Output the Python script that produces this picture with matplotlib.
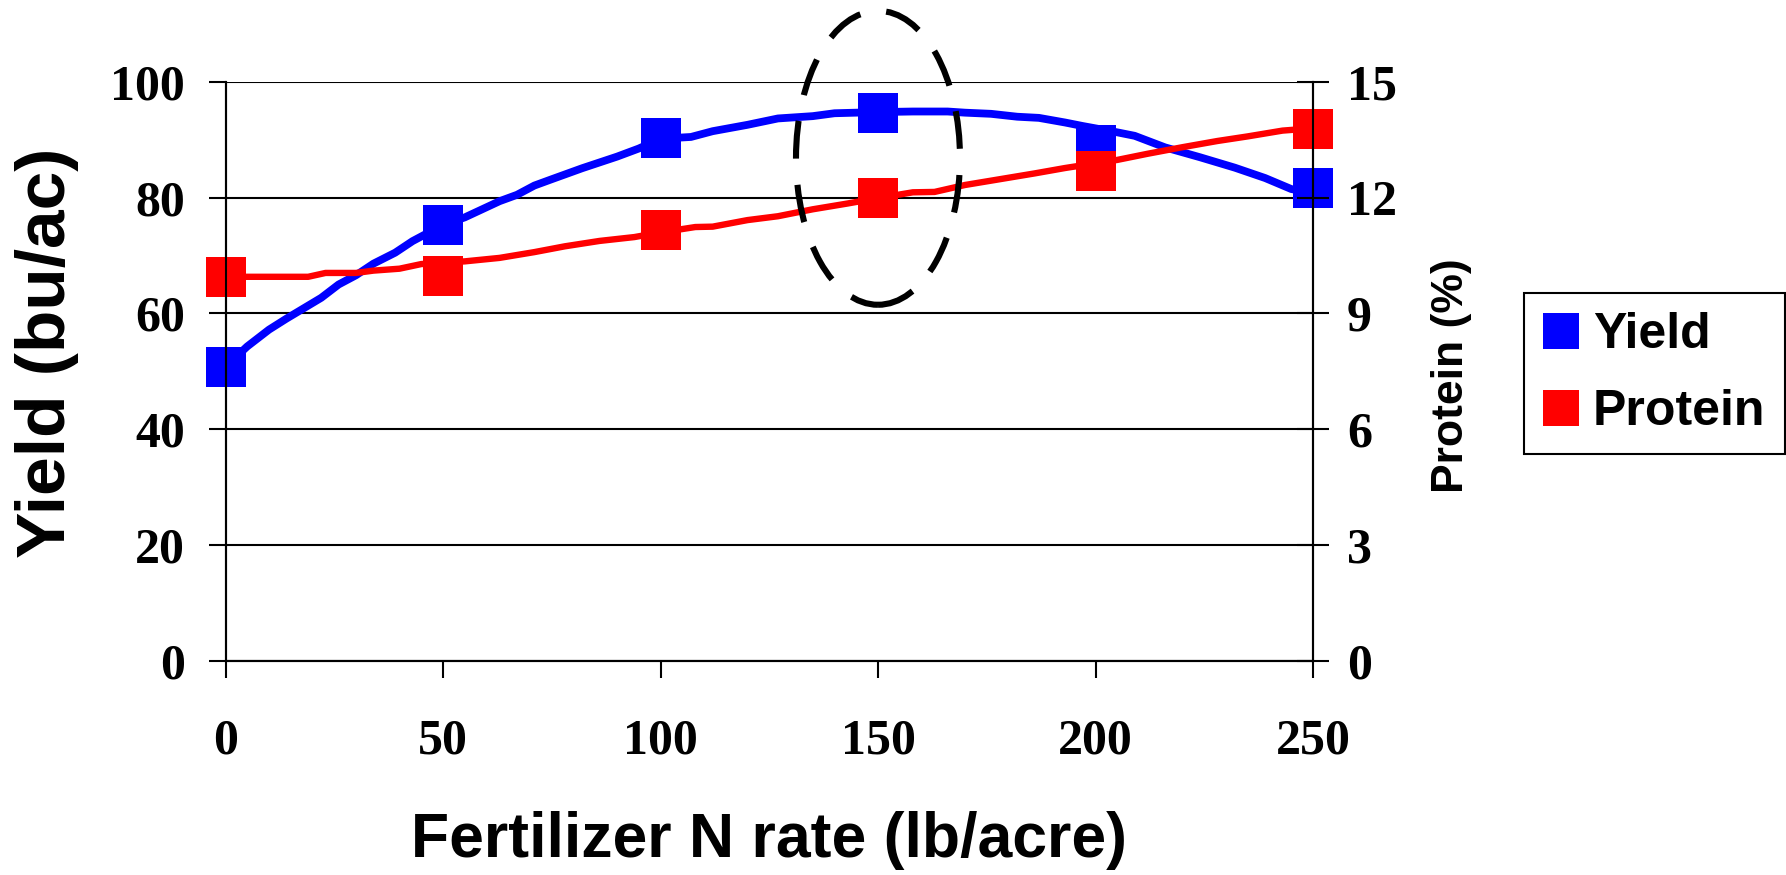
import matplotlib
matplotlib.use("Agg")
import matplotlib.pyplot as plt
from matplotlib.patches import Ellipse
from matplotlib.lines import Line2D

# ---------------- data ----------------
n_rate = [0, 50, 100, 150, 200, 250]
yield_obs = [50.8, 75.3, 90.3, 94.7, 89.1, 81.7]
protein_obs = [9.95, 9.98, 11.16, 11.99, 12.68, 13.79]

yield_curve_x = [0, 5, 10, 14, 18, 22, 26, 30, 34, 39, 43, 50, 55, 59, 63, 67, 71, 75,
                 82, 90, 95, 100, 107, 112, 120, 127, 135, 140, 150, 158, 166, 170, 176,
                 182, 187, 193, 197, 205, 209, 216, 224, 232, 239, 245, 250]
yield_curve_y = [50.8, 54.3, 57.2, 59.1, 60.9, 62.7, 65.0, 66.6, 68.6, 70.5, 72.5, 75.3,
                 76.6, 78.0, 79.4, 80.5, 82.1, 83.2, 85.1, 87.1, 88.5, 90.2, 90.5, 91.5,
                 92.6, 93.7, 94.1, 94.6, 94.8, 94.9, 94.9, 94.7, 94.5, 94.0, 93.8, 93.0,
                 92.4, 91.3, 90.7, 88.7, 87.0, 85.2, 83.4, 81.5, 80.8]

protein_curve_x = [0, 19, 23, 30, 34, 40, 45, 55, 63, 71, 78, 86, 94, 100, 108, 112, 120,
                   127, 135, 143, 150, 158, 163, 170, 178, 186, 193, 205, 212, 220, 228,
                   235, 243, 250]
protein_curve_y = [9.95, 9.95, 10.05, 10.05, 10.11, 10.16, 10.28, 10.35, 10.44, 10.59,
                   10.74, 10.88, 10.98, 11.10, 11.24, 11.25, 11.42, 11.52, 11.70, 11.85,
                   11.99, 12.14, 12.15, 12.33, 12.48, 12.63, 12.77, 12.98, 13.14, 13.31,
                   13.47, 13.59, 13.74, 13.80]

x_ticks = [0, 50, 100, 150, 200, 250]
yield_ticks = [0, 20, 40, 60, 80, 100]
protein_ticks = [0, 3, 6, 9, 12, 15]

series_names = ["Yield", "Protein"]
x_label = "Fertilizer N rate (lb/acre)"
y_label = "Yield (bu/ac)"
y2_label = "Protein (%)"

# ---------------- style ----------------
W, H = 1786, 875
BLUE = "#0000FF"
RED = "#FF0000"
serif = "Liberation Serif"
sans = "Liberation Sans"

fig = plt.figure(figsize=(W / 100, H / 100), dpi=100)
left, right, bottom, top = 225.5 / W, 1313 / W, 1 - 660.6 / H, 1 - 82 / H
ax = fig.add_axes([left, bottom, right - left, top - bottom])
ax2 = ax.twinx()

ax.set_xlim(0, 250)
ax.set_ylim(0, 100)
ax2.set_ylim(0, 15)

ax.plot(yield_curve_x, yield_curve_y, color=BLUE, lw=5.6, solid_joinstyle="round",
        solid_capstyle="round", zorder=2)
ax.plot(n_rate, yield_obs, ls="none", marker="s", ms=29, color=BLUE, mew=0, zorder=3,
        clip_on=False)
ax2.plot(protein_curve_x, protein_curve_y, color=RED, lw=4.6, solid_joinstyle="round",
         solid_capstyle="round", zorder=2)
ax2.plot(n_rate, protein_obs, ls="none", marker="s", ms=29, color=RED, mew=0, zorder=3,
         clip_on=False)

# grid
ax.set_yticks(yield_ticks)
ax.yaxis.grid(True, color="black", lw=1.5)
ax.set_axisbelow(True)
ax.set_xticks(x_ticks)
ax2.set_yticks(protein_ticks)

for a in (ax, ax2):
    for s in a.spines.values():
        s.set_linewidth(1.5)
        s.set_color("black")
        s.set_zorder(5)
    a.spines["top"].set_visible(False)

ax.tick_params(axis="y", direction="out", length=12, width=1.5, pad=17,
               labelsize=36)
ax.tick_params(axis="x", direction="out", length=12, width=1.5, pad=30,
               labelsize=36)
ax2.tick_params(axis="y", direction="inout", length=23, width=1.5, pad=13,
                labelsize=36)
for lab in ax.get_xticklabels() + ax.get_yticklabels() + ax2.get_yticklabels():
    lab.set_fontfamily(serif)
    lab.set_fontweight("bold")

# highlight ellipse around 150 lb/acre
ell = Ellipse((150, 86.9), 37.7, 50.8, transform=ax.transData, fill=False,
              edgecolor="black", lw=4.4, linestyle=(0, (6.2, 4.3)), clip_on=False,
              zorder=10)
ax2.add_patch(ell)

# labels
fig.text(769 / W, 1 - 840 / H, x_label, ha="center", va="center",
         fontsize=45, fontweight="bold", family=sans)
fig.text(47 / W, 1 - 353 / H, y_label, ha="center", va="center", rotation=90,
         fontsize=50, fontweight="bold", family=sans)
fig.text(1451 / W, 1 - 376 / H, y2_label, ha="center", va="center", rotation=90,
         fontsize=32, fontweight="bold", family=sans)

# legend
handles = [Line2D([], [], ls="none", marker="s", ms=26, color=BLUE, mew=0),
           Line2D([], [], ls="none", marker="s", ms=26, color=RED, mew=0)]
leg = fig.legend(handles, series_names, loc="upper left",
                 bbox_to_anchor=(1524 / W, 1 - 293 / H), borderaxespad=0,
                 prop={"family": sans, "weight": "bold", "size": 36},
                 frameon=True, fancybox=False, shadow=False, framealpha=1,
                 edgecolor="black", borderpad=0.38, labelspacing=0.62,
                 handlelength=0.72, handletextpad=0.28)
leg.get_frame().set_linewidth(1.5)

fig.savefig("out.png", dpi=100)
